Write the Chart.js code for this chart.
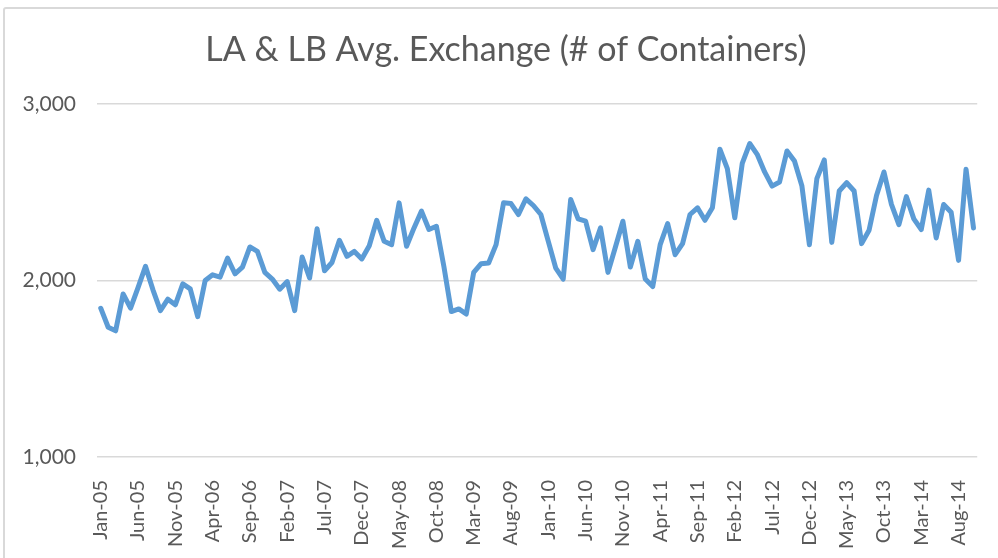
<!DOCTYPE html>
<html>
<head>
<meta charset="utf-8">
<script src="https://cdn.jsdelivr.net/npm/chart.js@4.4.1/dist/chart.umd.min.js"></script>
<style>
  html, body { margin: 0; padding: 0; background: #fff; overflow: hidden; }
  #wrap { position: relative; width: 998px; height: 558px; }
  #frame { position: absolute; left: 3px; top: 7px; width: 1000px; height: 600px; border: 2px solid #d9d9d9; border-radius: 3px; }
  #wrap canvas { position: absolute; left: 0; top: 0; }
</style>
</head>
<body>
<div id="wrap"><div id="frame"></div><canvas id="exchangeChart"></canvas></div>
<script>
// monthly categories, Jan-05 .. Oct-14
const monthNames = ['Jan','Feb','Mar','Apr','May','Jun','Jul','Aug','Sep','Oct','Nov','Dec'];
const firstYear = 2005;
const monthCount = 118;

// average containers exchanged, LA & LB ports
const exchange = [
  1843, 1735, 1715, 1924, 1843, 1960, 2080, 1947, 1829, 1894, 1862, 1981,
  1953, 1795, 2000, 2032, 2019, 2127, 2038, 2076, 2190, 2165, 2046, 2008,
  1951, 1994, 1829, 2133, 2014, 2293, 2055, 2102, 2228, 2137, 2165, 2122,
  2197, 2341, 2222, 2203, 2440, 2194, 2298, 2393, 2289, 2307, 2080, 1824,
  1839, 1810, 2046, 2095, 2099, 2203, 2440, 2436, 2374, 2463, 2425, 2374,
  2222, 2070, 2008, 2459, 2349, 2336, 2175, 2298, 2046, 2190, 2336, 2076,
  2222, 2008, 1966, 2203, 2323, 2146, 2209, 2374, 2412, 2341, 2412, 2744,
  2634, 2355, 2664, 2776, 2715, 2615, 2535, 2558, 2734, 2677, 2535, 2203,
  2577, 2683, 2216, 2507, 2554, 2507, 2209, 2285, 2482, 2615, 2431, 2317,
  2475, 2349, 2289, 2512, 2241, 2431, 2387, 2114, 2630, 2298
];

const yTicks = [1000, 2000, 3000];
const chartTitle = 'LA & LB Avg. Exchange (# of Containers)';

const months = [];
for (let i = 0; i < monthCount; i++) {
  const yr = String((firstYear + Math.floor(i / 12)) % 100).padStart(2, '0');
  months.push(monthNames[i % 12] + '-' + yr);
}

const textGray = '#595959';
const gridGray = '#d9d9d9';
const fontFamily = 'Lato, "Open Sans", sans-serif';

// title centred over the whole frame rather than the padded layout box
const frameTitle = {
  id: 'frameTitle',
  afterDraw(chart) {
    const ctx = chart.ctx;
    ctx.save();
    ctx.font = '34px ' + fontFamily;
    ctx.fillStyle = textGray;
    ctx.textAlign = 'center';
    ctx.textBaseline = 'middle';
    ctx.fillText(chartTitle, 506, 50);
    ctx.restore();
  }
};

new Chart(document.getElementById('exchangeChart').getContext('2d'), {
  type: 'line',
  data: {
    labels: months,
    datasets: [{
      label: 'LA & LB Avg. Exchange',
      data: exchange,
      borderColor: '#5b9bd5',
      borderWidth: 5,
      borderJoinStyle: 'round',
      borderCapStyle: 'round',
      pointRadius: 0,
      tension: 0,
      fill: false
    }]
  },
  options: {
    responsive: true,
    maintainAspectRatio: false,
    animation: false,
    layout: { padding: { left: 0, right: 20, top: 104, bottom: 0 } },
    plugins: {
      legend: { display: false },
      tooltip: { enabled: false },
      title: { display: false }
    },
    scales: {
      x: {
        type: 'category',
        offset: true,
        grid: { display: false },
        border: { display: false },
        afterFit: function(scale) { scale.height = 101; },
        ticks: {
          autoSkip: false,
          maxRotation: 90,
          minRotation: 90,
          padding: 15,
          color: textGray,
          font: { family: fontFamily, size: 20 },
          callback: function(value, index) {
            return index % 5 === 0 ? months[index] : null;
          }
        }
      },
      y: {
        min: 1000,
        max: 3000,
        afterBuildTicks: function(scale) {
          scale.ticks = yTicks.map(v => ({ value: v }));
        },
        afterFit: function(scale) { scale.width = 97; },
        grid: { color: gridGray, lineWidth: 1.5, drawTicks: false },
        border: { display: false },
        ticks: {
          padding: 21,
          color: textGray,
          font: { family: fontFamily, size: 21 },
          callback: function(value) { return value.toLocaleString('en-US'); }
        }
      }
    }
  },
  plugins: [frameTitle]
});
</script>
</body>
</html>
